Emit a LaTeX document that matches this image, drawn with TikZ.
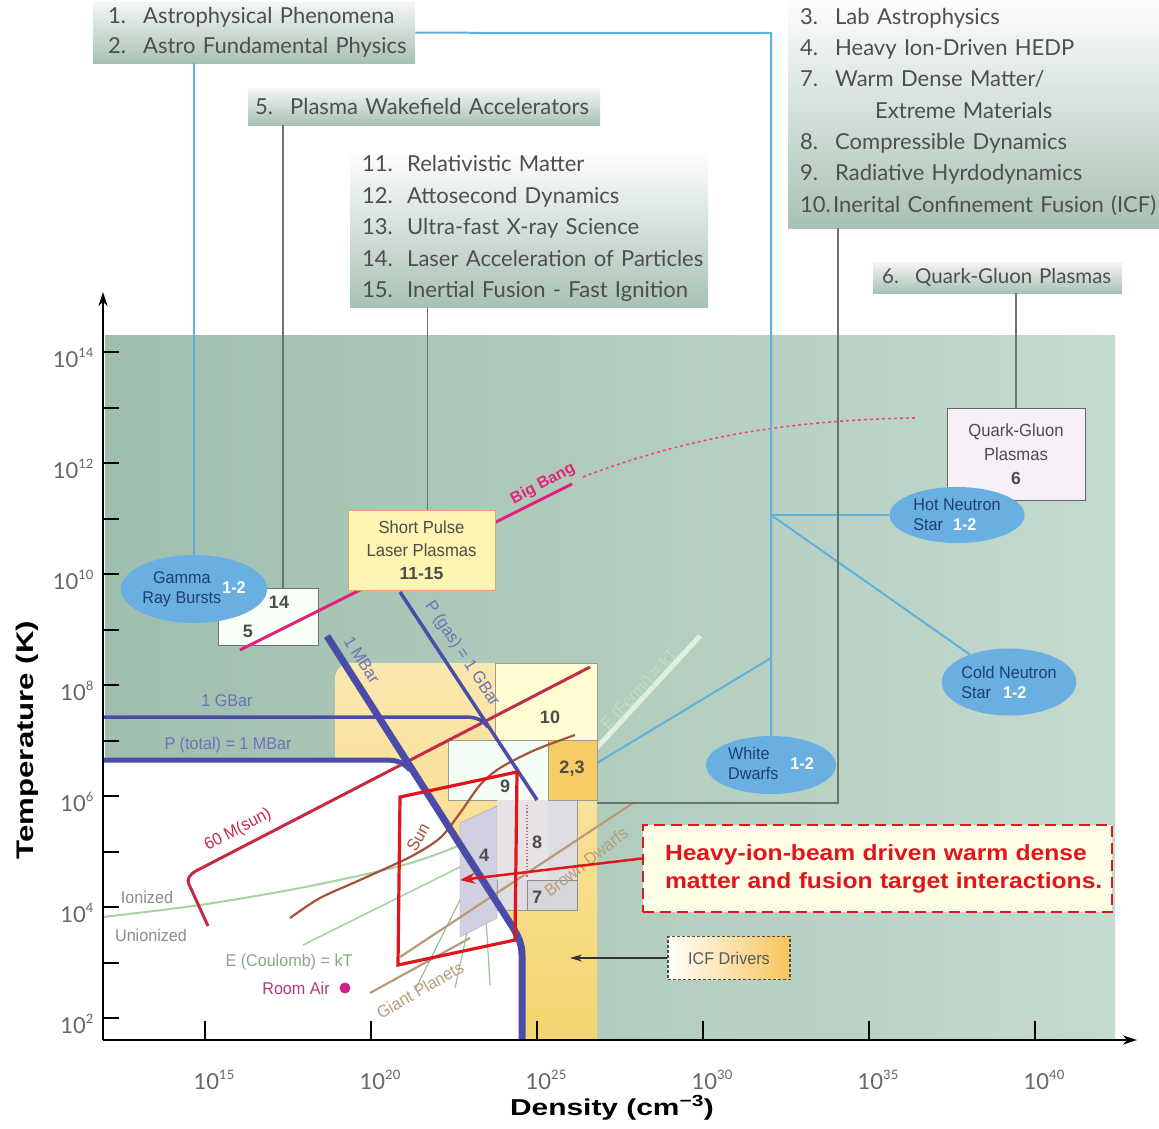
\documentclass[tikz,border=0pt]{standalone}
\usepackage{fontspec}
\setmainfont{Lato}
\newfontfamily\listfont{Lato}
\newfontfamily\plotfont[FakeStretch=0.95]{Liberation Sans}
\newfontfamily\boldsans{Liberation Sans}
\newfontfamily\widesans[FakeStretch=1.3]{Liberation Sans}
\newfontfamily\calloutfont[FakeStretch=1.12]{Liberation Sans}
\usetikzlibrary{arrows.meta,positioning,shapes.geometric}

\definecolor{listtop}{HTML}{F3F6F4}
\definecolor{listbot}{HTML}{A8C1B4}
\definecolor{listtext}{HTML}{4E4E4E}
\definecolor{linkblue}{HTML}{5DB1DD}
\definecolor{linkgray}{HTML}{65776F}
\definecolor{plotleft}{HTML}{9FBEAD}
\definecolor{plotright}{HTML}{C4DACE}
\definecolor{icfyellow}{HTML}{F6D56F}
\definecolor{ellfill}{HTML}{6AAFE2}
\definecolor{elltext}{HTML}{1F3D77}
\definecolor{barblue}{HTML}{4B4BA8}
\definecolor{bangpink}{HTML}{E0257D}
\definecolor{msunred}{HTML}{C52B45}
\definecolor{sunbrown}{HTML}{A5523C}
\definecolor{dwarftan}{HTML}{B79C7C}
\definecolor{palegreen}{HTML}{A8D3A2}
\definecolor{wdmred}{HTML}{E1151D}
\definecolor{numgray}{HTML}{4C4C4C}

\newcommand\li[3][35pt]{\mbox{\makebox[#1][l]{#2}#3}}
\newcommand\onetwo{\textcolor{white}{\bfseries 1-2}}
\newcommand\decade[1]{10\raisebox{10pt}{\fontsize{13}{13}\selectfont#1}}

\begin{document}
\begin{tikzpicture}[x=1pt,y=-1pt,
  listbox/.style={anchor=north west,top color=listtop,bottom color=listbot,text=listtext,
    align=left,font=\listfont\fontsize{22}{30}\selectfont},
  plotbox/.style={draw=#1,line width=1pt,align=center,text=numgray,
    font=\plotfont\fontsize{17.5}{23}\selectfont},
  star/.style={ellipse,fill=ellfill,inner sep=0pt,text=elltext,align=left,
    font=\plotfont\fontsize{17}{20}\selectfont},
  numtext/.style={text=numgray,font=\boldsans\bfseries\fontsize{18}{18}\selectfont},
  linetext/.style={font=\plotfont\fontsize{17}{17}\selectfont},
  bluelink/.style={linkblue,line width=2pt},
  graylink/.style={linkgray,line width=1.5pt},
  ticklbl/.style={text=black!60,font=\listfont\fontsize{22}{22}\selectfont}]

\useasboundingbox (0,0) rectangle (1159,1128);
\clip (0,0) rectangle (1159,1128);
\fill[white] (0,0) rectangle (1159,1128);

% list of research areas
\node[listbox,text width=292pt,inner xsep=15pt,minimum height=61pt] (astro) at (93,2)
  {\li{1.}{Astrophysical Phenomena}\\\li{2.}{Astro Fundamental Physics}};
\node[listbox,text width=338pt,inner xsep=7pt,minimum height=37pt] (pwfa) at (248,88)
  {\li{5.}{Plasma Wakefield Accelerators}};
\node[listbox,font=\listfont\fontsize{22}{31.5}\selectfont,top color=white,
  text width=334pt,inner xsep=12pt,minimum height=157pt] (relmat) at (350,150)
  {\li[45pt]{11.}{Relativistic Matter}\\\li[45pt]{12.}{Attosecond Dynamics}\\
   \li[45pt]{13.}{Ultra-fast X-ray Science}\\\li[45pt]{14.}{Laser Acceleration of Particles}\\
   \li[45pt]{15.}{Inertial Fusion - Fast Ignition}};
\node[listbox,font=\listfont\fontsize{22}{31.3}\selectfont,top color=white,
  text width=420pt,inner xsep=12pt,minimum height=233pt] (labastro) at (788,-5)
  {\li{3.}{Lab Astrophysics}\\\li{4.}{Heavy Ion-Driven HEDP}\\\li{7.}{Warm Dense Matter/}\\
   \li{}{\hspace*{40pt}Extreme Materials}\\\li{8.}{Compressible Dynamics}\\\li{9.}{Radiative Hyrdodynamics}\\
   \li[33pt]{10.}{Inerital Confinement Fusion (ICF)}};
\node[listbox,font=\listfont\fontsize{20.5}{30}\selectfont,text width=231pt,inner xsep=9pt,
  minimum height=31pt] (qgplist) at (873,262)
  {\li[33pt]{6.}{Quark-Gluon Plasmas}};

% plot regions
\shade[left color=plotleft,right color=plotright] (105,335) rectangle (1115,1040);
\shade[top color=icfyellow!55!white,bottom color=icfyellow] (335,1040) [rounded corners=16pt] -- (335,663) -- (597,663) [sharp corners] -- (597,1040) -- cycle;
\fill[white] (103,760) -- (392,760) .. controls (400,760) and (404,762) .. (408,767)
  -- (512,926) .. controls (518,936) and (522,944) .. (522,955) -- (522,1040) -- (103,1040) -- cycle;

% E (Fermi) band and cool-matter lines
\draw[palegreen!35!white,line width=5pt] (480,874) -- (700,636);
\draw[palegreen,line width=2pt] plot[smooth] coordinates {(103,917) (200,905) (300,888) (400,866) (460,845) (520,815) (595,775)};
\draw[palegreen,line width=1.6pt] (303,945) -- (470,862);
\draw[palegreen!80!gray,line width=1.2pt] (415,990) -- (470,880);
\draw[palegreen!80!gray,line width=1.2pt] (455,988) -- (478,882);
\draw[palegreen!80!gray,line width=1.2pt] (490,985) -- (484,884);

% numbered boxes
\filldraw[fill=yellow!18!white,draw=black!40] (495,663) rectangle (597,740);
\filldraw[fill=black!14!green!4!white,draw=black!40] (448,740) rectangle (548,800);
\filldraw[fill=icfyellow!90!orange,draw=black!40] (548,740) rectangle (597,800);
\filldraw[fill=blue!8!gray!25!white,draw=black!40] (497,800) rectangle (577,910);
\fill[red!10!gray!20!white] (497,800) rectangle (548,880);
\draw[magenta!50!gray,dotted,line width=1.2pt] (527,805) -- (527,878);
\filldraw[fill=blue!8!gray!30!white,draw=black!45] (527,880) rectangle (577,910);
\filldraw[fill=blue!22!gray!30!white,draw=black!35] (460,823) -- (497,806) -- (497,918) -- (460,937) -- cycle;
\node[numtext] (n10) at (550,717) {10};
\node[numtext] (n9) at (505,786) {9};
\node[numtext] (n23) at (572,769) {2,3};
\node[numtext] (n8) at (537,842) {8};
\node[numtext] (n4) at (484,855) {4};
\node[numtext] (n7) at (537,897) {7};

% stellar and planetary tracks
\draw[dwarftan,line width=2.2pt] (400,957) -- (633,803);
\draw[dwarftan,line width=2.2pt] (370,993) -- (470,938);
\draw[sunbrown,line width=2.2pt] plot[smooth] coordinates {(290,918) (320,898) (360,880) (410,857) (440,838) (460,813) (480,785) (500,768) (535,750) (575,735)};
\draw[msunred,line width=3pt,rounded corners=4pt] (208,926) -- (187,880) -- (192,873) -- (590,667);

% pressure lines
\draw[barblue,line width=3.5pt] (400,592) -- (537,800);
\draw[barblue,line width=3.5pt] (103,717) -- (465,717) .. controls (475,717) and (482,719) .. (488,727);
\draw[barblue,line width=5pt] (103,760) -- (385,760) .. controls (398,760) and (404,763) .. (410,770);
\draw[barblue,line width=7pt] (327,636) -- (512,926) .. controls (518,936) and (522,944) .. (522,955) -- (522,1040);

% boxes and stars
\node[plotbox=black!55,fill=black!5!green!3!white,minimum width=100pt,minimum height=57pt,
  numtext,font=\boldsans\bfseries\fontsize{18}{29}\selectfont] (b14) at (268,616.5)
  {\hspace*{22pt}14\\5\hspace*{40pt}};
\draw[bangpink,line width=3pt] (240,650) -- (572,484);
\draw[bangpink!70!red!80!white,dashed,line width=1.6pt] (583,477) .. controls (680,440) and (780,420) .. (915,418);
\node[plotbox=orange!50!brown!70,fill=orange!25!yellow!30!white,minimum width=147pt,minimum height=80pt] (spl) at (421.5,550)
  {Short Pulse\\Laser Plasmas\\{\boldsans\bfseries 11-15}};
\node[plotbox=black!60,fill=violet!6!white,minimum width=138pt,minimum height=92pt,
  font=\plotfont\fontsize{17.5}{24}\selectfont] (qgp) at (1016,454)
  {Quark-Gluon\\Plasmas\\{\boldsans\bfseries 6}};
\node[star,minimum width=138pt,minimum height=68pt] (gamma) at (194,589)
  {\begin{tabular}{@{}c@{}}Gamma\\Ray Bursts\end{tabular}\hspace{1pt}\onetwo};
\node[star,minimum width=135pt,minimum height=56pt] (hns) at (957,515)
  {Hot Neutron\\Star\hspace{10pt}\onetwo};
\node[star,minimum width=128pt,minimum height=67pt] (cns) at (1009,682)
  {Cold Neutron\\Star\hspace{12pt}\onetwo};
\node[star,minimum width=130pt,minimum height=58pt] (wd) at (771,765)
  {\begin{tabular}{@{}l@{}}White\\Dwarfs\end{tabular}\hspace{12pt}\onetwo};

% connectors
\coordinate (bend) at (771,33);
\coordinate (hub) at (771,515);
\coordinate (hub2) at (771,658);
\coordinate (wdtip) at (597,763);
\coordinate (icfcorner) at (838,803);
\coordinate (icfend) at (597,803);
\draw[bluelink] (gamma.north |- astro.south) -- (gamma.north);
\draw[bluelink] (astro.east) -- (bend) -- (wd.north);
\draw[bluelink] (hub) -- (hns.west);
\draw[bluelink] (hub) -- (cns);
\draw[bluelink] (hub2) -- (wdtip);
\draw[graylink] ([xshift=15pt]b14.north |- pwfa.south) -- ([xshift=15pt]b14.north);
\draw[graylink] ([xshift=6pt]spl.north |- relmat.south) -- ([xshift=6pt]spl.north);
\draw[graylink] (labastro.south -| icfcorner) -- (icfcorner) -- (icfend);
\draw[graylink] (qgp.north |- qgplist.south) -- (qgp.north);

% line labels
\node[linetext,text=barblue!80!white] (gbar) at (227,701) {1 GBar};
\node[linetext,text=barblue!80!white] (ptot) at (228,745) {P (total) = 1 MBar};
\node[linetext,text=barblue!80!white,rotate=-57.5] (mbar) at (362,660) {1 MBar};
\node[linetext,text=barblue!80!white,rotate=-56.6] (pgas) at (462,654) {P (gas) = 1 GBar};
\node[linetext,text=msunred,rotate=27.5] (msun) at (238,830) {60 M(sun)};
\node[linetext,text=sunbrown,rotate=60] (sun) at (418,837) {Sun};
\node[linetext,text=dwarftan,rotate=38] (bdwarf) at (586,862) {Brown Dwarfs};
\node[linetext,text=dwarftan,rotate=30] (gplanet) at (420,990) {Giant Planets};
\node[text=bangpink,font=\boldsans\bfseries\fontsize{16}{16}\selectfont,rotate=28] (bang) at (543,484) {Big Bang};
\node[linetext,text=palegreen!70!white,rotate=47] (efermi) at (640,690) {E (Fermi) = kT};
\node[linetext,text=black!45] (ion) at (147,897) {Ionized};
\node[linetext,text=black!45] (union) at (151,935) {Unionized};
\node[linetext,text=palegreen!80!black] (ecoul) at (289,962) {E (Coulomb) = kT};
\node[linetext,text=magenta!70!black] (air) at (296,988) {Room Air};
\fill[magenta!85!black] (345,988) circle (5.5pt);

% region of interest
\draw[wdmred,line width=3.2pt,line join=miter] (400,797) -- (517,772) -- (515,940) -- (398,965) -- cycle;
\coordinate (wdmtip) at (460,880);
\coordinate (icftip) at (570,958);
\node[draw=wdmred,dash pattern=on 11pt off 6pt,line width=2.5pt,fill=yellow!10!white,text=wdmred,align=left,
  text width=425pt,inner xsep=22pt,minimum height=87pt,
  font=\calloutfont\bfseries\fontsize{22}{28}\selectfont] (heavy) at (877.5,868.5)
  {\mbox{Heavy-ion-beam driven warm dense}\\\mbox{matter and fusion target interactions.}};
\draw[wdmred,line width=2.5pt,-{Stealth[length=15pt,width=11pt]}] ([yshift=10pt]heavy.west) -- (wdmtip);
\node[draw=black!70,densely dashed,line width=1.5pt,left color=white,right color=icfyellow!80!orange,
  text=black!65,minimum width=122pt,minimum height=43pt,
  font=\plotfont\fontsize{17}{17}\selectfont] (icf) at (729,958) {ICF Drivers};
\draw[black!80,line width=1.3pt,-{Stealth[length=12pt,width=7pt]}] (icf.west) -- (icftip);

% axes
\draw[line width=2.2pt,-{Stealth[length=14pt,width=9pt]}] (103,1040) -- (1137,1040);
\draw[line width=2.2pt,-{Stealth[length=14pt,width=9pt]}] (103,1040) -- (103,292);
\foreach \k in {0,...,12}
  \draw[line width=2pt] (103,352+55.5*\k) -- (119,352+55.5*\k);
\foreach \e [count=\k from 0] in {14,12,...,2}
  \node[ticklbl,anchor=east] at (97,358+111*\k) {\decade{\e}};
\foreach \k in {0,...,5}
  \draw[line width=2pt] (205+166*\k,1040) -- ++(0,-19);
\foreach \e [count=\k from 0] in {15,20,...,40}
  \node[ticklbl] at (214+166*\k,1080) {\decade{\e}};
\node[rotate=90,font=\widesans\bfseries\fontsize{24}{24}\selectfont] (tlabel) at (27,740) {Temperature (K)};
\node[font=\widesans\bfseries\fontsize{23}{23}\selectfont] (dlabel) at (612,1108) {Density (cm\textsuperscript{−3})};
\end{tikzpicture}
\end{document}
